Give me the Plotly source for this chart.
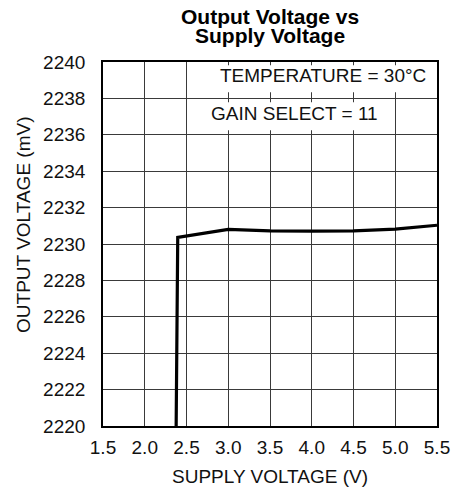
import plotly.graph_objects as go

supply_v = [2.376, 2.395, 3.0, 3.5, 4.0, 4.5, 5.0, 5.5]
output_mv = [2220.0, 2230.36, 2230.80, 2230.72, 2230.71, 2230.72, 2230.82, 2231.03]

x_ticks = [1.5, 2.0, 2.5, 3.0, 3.5, 4.0, 4.5, 5.0, 5.5]
x_tick_labels = ["1.5", "2.0", "2.5", "3.0", "3.5", "4.0", "4.5", "5.0", "5.5"]
y_ticks = list(range(2220, 2242, 2))
y_tick_labels = [str(v) for v in y_ticks]

FONT = "Liberation Sans, Arial, sans-serif"
TXT = "#111111"

fig = go.Figure()
fig.add_trace(go.Scatter(x=supply_v, y=output_mv, mode="lines",
                         line=dict(color="black", width=3.2), showlegend=False))

# white boxes behind legend-style labels
fig.add_shape(type="rect", xref="x", yref="y", x0=2.75, x1=5.38, y0=2238.34, y1=2239.82,
              fillcolor="white", line=dict(width=0), layer="between")
fig.add_shape(type="rect", xref="x", yref="y", x0=2.76, x1=4.95, y0=2236.25, y1=2237.79,
              fillcolor="white", line=dict(width=0), layer="between")

fig.add_annotation(x=5.39, y=2239.27, xref="x", yref="y", text="TEMPERATURE = 30°C",
                   showarrow=False, xanchor="right", yanchor="middle",
                   font=dict(family=FONT, size=19, color=TXT))
fig.add_annotation(x=2.77, y=2237.18, xref="x", yref="y", text="GAIN SELECT = 11",
                   showarrow=False, xanchor="left", yanchor="middle",
                   font=dict(family=FONT, size=19, color=TXT))

# title lines
fig.add_annotation(x=0.5, y=1.1241, xref="paper", yref="paper", text="<b>Output Voltage vs</b>",
                   showarrow=False, xanchor="center", yanchor="middle",
                   font=dict(family=FONT, size=21, color="black"))
fig.add_annotation(x=0.5, y=1.0719, xref="paper", yref="paper", text="<b>Supply Voltage</b>",
                   showarrow=False, xanchor="center", yanchor="middle",
                   font=dict(family=FONT, size=21, color="black"))

# axis titles
fig.add_annotation(x=0.5, y=-0.14, xref="paper", yref="paper", text="SUPPLY VOLTAGE (V)",
                   showarrow=False, xanchor="center", yanchor="middle",
                   font=dict(family=FONT, size=19, color=TXT))
fig.add_annotation(x=-0.24, y=0.552, xref="paper", yref="paper", text="OUTPUT VOLTAGE (mV)",
                   showarrow=False, xanchor="center", yanchor="middle", textangle=-90,
                   font=dict(family=FONT, size=19, color=TXT))

axis_common = dict(showgrid=True, gridcolor="#3a3a3a", gridwidth=1.4,
                   showline=True, linecolor="black", linewidth=1.6, mirror=True,
                   zeroline=False, ticks="", automargin=False,
                   tickfont=dict(family=FONT, size=19, color=TXT))

fig.update_xaxes(range=[1.5, 5.5], tickvals=x_ticks, ticktext=x_tick_labels,
                 ticklabelstandoff=3, **axis_common)
fig.update_yaxes(range=[2220, 2240], tickvals=y_ticks, ticktext=y_tick_labels,
                 ticklabelstandoff=12, **axis_common)

fig.update_layout(width=453, height=491, margin=dict(l=102.5, r=16.3, t=61.7, b=65),
                  paper_bgcolor="white", plot_bgcolor="white",
                  font=dict(family=FONT, color=TXT))

fig.write_html("out.html", config={"displayModeBar": False},
               post_script="document.body.style.margin='0';document.body.style.overflow='hidden';")
